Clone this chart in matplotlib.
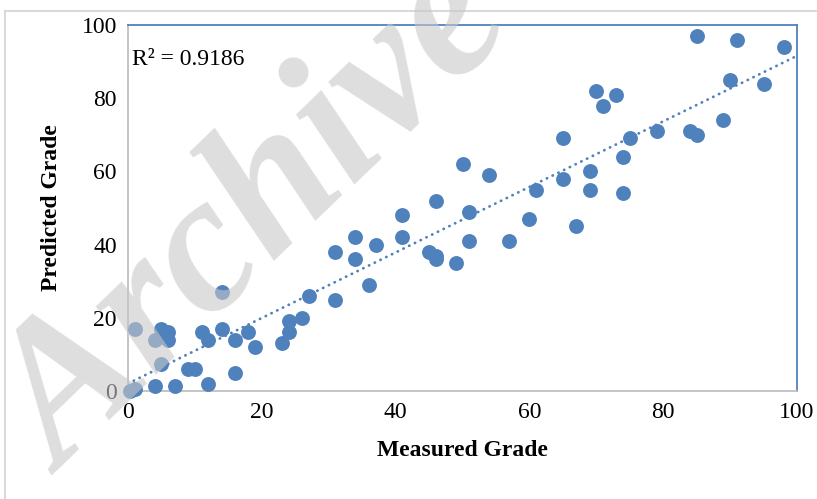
import numpy as np
import matplotlib.pyplot as plt
from matplotlib.lines import Line2D

# --- Measured vs predicted grades ---
measured = [0.3, 1, 1, 4, 4, 5, 5, 6, 6, 7, 9, 10, 11, 12, 12, 14, 14, 16, 16,
            18, 19, 23, 24, 24, 26, 27, 31, 31, 34, 34, 36, 37, 41, 41, 45, 46,
            46, 46, 49, 50, 51, 51, 54, 57, 60, 61, 65, 65, 67, 69, 69, 70, 71,
            73, 74, 74, 75, 79, 84, 85, 85, 89, 90, 91, 95, 98]
predicted = [0, 0.5, 17, 1.4, 14, 17, 7.5, 16, 14, 1.4, 6, 6, 16, 14, 2, 27, 17,
             14, 5, 16, 12, 13, 19, 16, 20, 26, 38, 25, 42, 36, 29, 40, 48, 42,
             38, 37, 36, 52, 35, 62, 49, 41, 59, 41, 47, 55, 69, 58, 45, 60, 55,
             82, 78, 81, 64, 54, 69, 71, 71, 70, 97, 74, 85, 96, 84, 94]
ticks = [0, 20, 40, 60, 80, 100]

blue = '#4F81BD'
serif = ['Liberation Serif', 'DejaVu Serif']

x = np.array(measured)
y = np.array(predicted)
slope, intercept = np.polyfit(x, y, 1)

fig = plt.figure(figsize=(8.17, 4.99), dpi=100)
ax = fig.add_axes([128 / 817, 108 / 499, 669 / 817, 366 / 499])

ax.scatter(x, y, s=115, color=blue, linewidths=0, zorder=3, clip_on=False)

# linear trendline
xt = np.array([0, 100])
ax.plot(xt, slope * xt + intercept, color=blue, lw=2.0,
        linestyle=(0, (0.1, 2.2)), dash_capstyle='round', zorder=2)

ax.set_xlim(0, 100)
ax.set_ylim(0, 100)
ax.set_xticks(ticks)
ax.set_yticks(ticks)
ax.tick_params(length=0, labelsize=17, pad=8)
for lab in ax.get_xticklabels() + ax.get_yticklabels():
    lab.set_family(serif)

for side in ['left', 'bottom']:
    ax.spines[side].set_color('#BFBFBF')
    ax.spines[side].set_linewidth(1.3)
for side in ['top', 'right']:
    ax.spines[side].set_color(blue)
    ax.spines[side].set_linewidth(1.3)

ax.set_xlabel('Measured Grade', family=serif, fontsize=17, fontweight='bold',
              labelpad=12)
ax.set_ylabel('Predicted Grade', family=serif, fontsize=17, fontweight='bold',
              labelpad=14)

ax.text(0.006, 0.905, 'R² = 0.9186', transform=ax.transAxes, family=serif,
        fontsize=17, va='center', ha='left')

# outer chart border
fig.add_artist(Line2D([5 / 817, 1], [1 - 11 / 499, 1 - 11 / 499],
                      color='#D9D9D9', lw=1.5))
fig.add_artist(Line2D([5 / 817, 5 / 817], [0, 1 - 11 / 499],
                      color='#D9D9D9', lw=1.5))

# watermark
fig.text(62 / 817, 1 - 476 / 499, 'Archive of SID', family=serif,
         fontsize=142, fontweight='bold', fontstyle='italic',
         color='#C8C8C8', alpha=0.6, rotation=44, rotation_mode='anchor',
         ha='left', va='baseline', zorder=10)

fig.savefig('out.png', dpi=100)
